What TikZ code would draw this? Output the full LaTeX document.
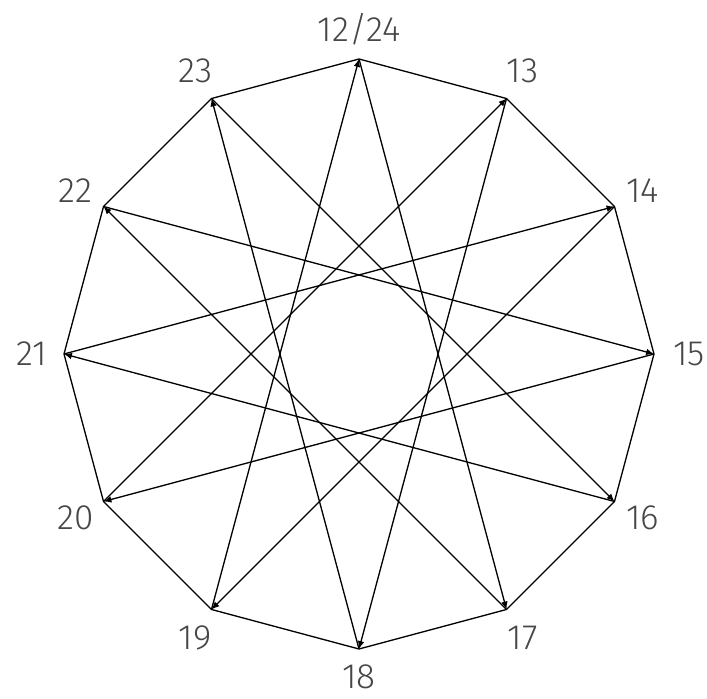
\documentclass[tikz,border=0pt]{standalone}
\usepackage{fontspec}
\setmainfont{Fira Sans}[UprightFont={* Light}]
\usetikzlibrary{arrows.meta}

\begin{document}
\begin{tikzpicture}[
    every node/.style={font=\fontsize{20}{23}\selectfont, text=black!72},
    side/.style={line width=0.75pt},
    chord/.style={line width=0.75pt, -{Latex[length=4.5pt,width=3.8pt]}}
]
\useasboundingbox (0,0) rectangle (14.14,13.96);

\begin{scope}[shift={(7.18,6.88)}]

% corners
\coordinate (v12) at (90:5.9);
\coordinate (v13) at (60:5.9);
\coordinate (v14) at (30:5.9);
\coordinate (v15) at (0:5.9);
\coordinate (v16) at (-30:5.9);
\coordinate (v17) at (-60:5.9);
\coordinate (v18) at (-90:5.9);
\coordinate (v19) at (-120:5.9);
\coordinate (v20) at (-150:5.9);
\coordinate (v21) at (180:5.9);
\coordinate (v22) at (150:5.9);
\coordinate (v23) at (120:5.9);

% hours
\node (l12) at (90:6.5) {12/24};
\node (l13) at (60:6.55) {13};
\node (l14) at (30:6.55) {14};
\node (l15) at (0:6.6) {15};
\node (l16) at (-30:6.55) {16};
\node (l17) at (-60:6.55) {17};
\node (l18) at (-90:6.45) {18};
\node (l19) at (-120:6.55) {19};
\node (l20) at (-150:6.55) {20};
\node (l21) at (180:6.55) {21};
\node (l22) at (150:6.55) {22};
\node (l23) at (120:6.55) {23};

% outline
\draw[side] (v12) -- (v13) -- (v14) -- (v15) -- (v16) -- (v17) -- (v18)
    -- (v19) -- (v20) -- (v21) -- (v22) -- (v23) -- cycle;

% steps of five hours
\draw[chord] (v12) -- (v17);
\draw[chord] (v13) -- (v18);
\draw[chord] (v14) -- (v19);
\draw[chord] (v15) -- (v20);
\draw[chord] (v16) -- (v21);
\draw[chord] (v17) -- (v22);
\draw[chord] (v18) -- (v23);
\draw[chord] (v19) -- (v12);
\draw[chord] (v20) -- (v13);
\draw[chord] (v21) -- (v14);
\draw[chord] (v22) -- (v15);
\draw[chord] (v23) -- (v16);

\end{scope}
\end{tikzpicture}
\end{document}
